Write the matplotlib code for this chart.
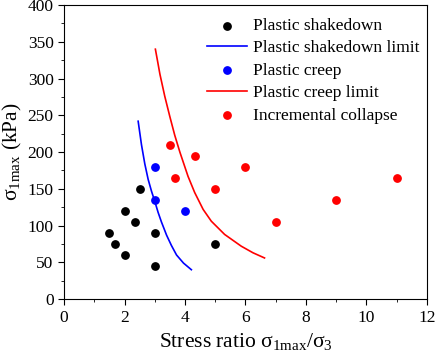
import matplotlib
matplotlib.use("Agg")
import matplotlib.pyplot as plt
from matplotlib.ticker import MultipleLocator

plt.rcParams['font.family'] = ['Liberation Serif', 'DejaVu Serif']
plt.rcParams['mathtext.fontset'] = 'custom'
plt.rcParams['mathtext.rm'] = 'Liberation Serif'
plt.rcParams['mathtext.it'] = 'Liberation Serif:italic'

# Data
shake_x = [1.5, 1.67, 2.0, 2.0, 2.33, 2.5, 3.0, 3.0, 5.0]
shake_y = [90, 75, 60, 120, 105, 150, 90, 45, 75]
creep_x = [3.0, 3.0, 4.0]
creep_y = [180, 135, 120]
collapse_x = [3.5, 3.67, 4.33, 5.0, 6.0, 7.0, 9.0, 11.0]
collapse_y = [210, 165, 195, 150, 180, 105, 135, 165]

shake_lim_x = [2.45, 2.56, 2.67, 2.78, 2.89, 3.0, 3.11, 3.22, 3.39, 3.55, 3.72, 3.95, 4.21]
shake_lim_y = [242, 210, 184, 163, 147, 133, 118, 105, 87, 73, 60, 49, 40]
creep_lim_x = [3.02, 3.1, 3.17, 3.33, 3.5, 3.66, 3.83, 4.1, 4.32, 4.6, 4.87, 5.31, 5.86, 6.25, 6.63]
creep_lim_y = [340, 322, 306, 276, 248, 223, 200, 167, 145, 122, 106, 88, 72, 63, 56]

fig = plt.figure(figsize=(4.36, 3.63), dpi=100)
ax = fig.add_axes([0.147, 0.176, 0.832, 0.810])

ax.scatter(shake_x, shake_y, s=28, color='black', zorder=3, label='Plastic shakedown')
ax.plot(shake_lim_x, shake_lim_y, color='blue', lw=1.2, label='Plastic shakedown limit')
ax.scatter(creep_x, creep_y, s=28, color='blue', zorder=3, label='Plastic creep')
ax.plot(creep_lim_x, creep_lim_y, color='red', lw=1.2, label='Plastic creep limit')
ax.scatter(collapse_x, collapse_y, s=28, color='red', zorder=3, label='Incremental collapse')

ax.set_xlim(0, 12)
ax.set_ylim(0, 400)
ax.xaxis.set_major_locator(MultipleLocator(2))
ax.xaxis.set_minor_locator(MultipleLocator(1))
ax.yaxis.set_major_locator(MultipleLocator(50))
ax.yaxis.set_minor_locator(MultipleLocator(25))
ax.tick_params(which='both', direction='out', labelsize=12.5, top=False, right=False)
ax.tick_params(which='major', length=4)
ax.tick_params(which='minor', length=2.5)

ax.set_xlabel(r'Stress ratio $\mathrm{\sigma_{1max}/\sigma_{3}}$', fontsize=15.5)
ax.set_ylabel(r'$\mathrm{\sigma_{1max}}$ (kPa)', fontsize=15.5, labelpad=3)

ax.legend(loc='upper right', frameon=False, fontsize=12.5, handlelength=2.3,
          handletextpad=0.35, labelspacing=0.36, borderaxespad=0.2,
          borderpad=0.2, bbox_to_anchor=(1.0, 0.98))

fig.savefig('out.png', dpi=100)
